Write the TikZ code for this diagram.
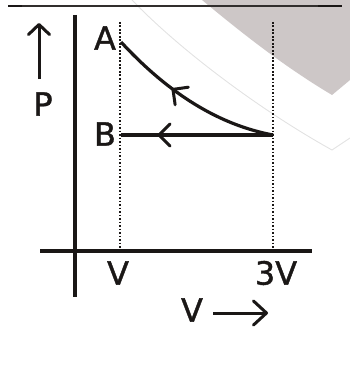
\documentclass[tikz,border=0pt]{standalone}
\usepackage{fontspec}
\setmainfont[FakeBold=1.2]{DejaVu Sans}
\usetikzlibrary{arrows.meta,decorations.markings}
\definecolor{wmgray}{HTML}{CDC7C7}
\definecolor{wmline}{HTML}{E2E2E2}
\definecolor{ink}{HTML}{1A1716}
\tikzset{
  axis/.style={line width=4.5pt, ink},
  dotline/.style={line width=2.6pt, ink, dash pattern=on 1.8pt off 1.7pt},
  lbl/.style={font=\fontsize{32}{32}\selectfont, ink, inner sep=0pt},
  barbP/.style={-{Straight Barb[length=10pt,width=21pt,line width=3pt,round]}},
  barbV/.style={-{Straight Barb[length=13pt,width=24pt,line width=3pt,round]}},
  process/.style={line width=3.2pt, ink}
}
\begin{document}
\begin{tikzpicture}[x=1pt,y=-1pt]
\useasboundingbox (0,0) rectangle (350,369);
% watermark
\fill[wmgray] (202,0) .. controls (250,40) and (290,70) .. (332,95) -- (350,80) -- (350,0) -- cycle;
\draw[wmline, line width=0.9pt] (132,0) .. controls (180,50) and (260,110) .. (332,150) -- (350,138);
% header rule
\draw[ink!90, line width=1.3pt] (22,6) -- (318,6);
\draw[ink, line width=2.4pt] (8,6) -- (22,6);
\draw[ink, line width=2.4pt] (318,6) -- (342,6);
% coordinates
\coordinate (ytop) at (75,15);
\coordinate (ybot) at (75,297);
\coordinate (xl) at (40,251);
\coordinate (xr) at (312,251);
\coordinate (d1t) at (120,22);
\coordinate (d1b) at (120,249);
\coordinate (d2t) at (273,22);
\coordinate (d2b) at (273,249);
\coordinate (a) at (121,42);
\coordinate (b) at (121,135);
\coordinate (c) at (273,135);
% dotted guides
\draw[dotline] (d1t) -- (d1b);
\draw[dotline] (d2t) -- (d2b);
% axes
\draw[axis] (ytop) -- (ybot);
\draw[axis] (xl) -- (xr);
% processes
\draw[process, postaction={decorate}, decoration={markings, mark=at position 0.62 with {\arrow{Straight Barb[length=11pt,width=22pt,line width=3pt,round]}}}]
  (c) .. controls (220,125) and (170,95) .. (a);
\draw[process, postaction={decorate}, decoration={markings, mark=at position 0.76 with {\arrow{Straight Barb[length=11pt,width=22pt,line width=3pt,round]}}}]
  (c) -- (b);
% labels
\node[lbl] (la) at (105,38) {A};
\node[lbl] (lb) at (105,134) {B};
\node[lbl] (lv1) at (118,273) {V};
\node[lbl] (lv3) at (276,273) {3V};
\node[lbl] (lp) at (43,104) {P};
\node[lbl] (lv) at (192,310) {V};
% axis label arrows
\coordinate (pa0) at (39,79);
\coordinate (pa1) at (39,23);
\draw[line width=3pt, ink, barbP] (pa0) -- (pa1);
\coordinate (va0) at (213,313);
\coordinate (va1) at (268,313);
\draw[line width=3pt, ink, barbV] (va0) -- (va1);
\end{tikzpicture}
\end{document}
